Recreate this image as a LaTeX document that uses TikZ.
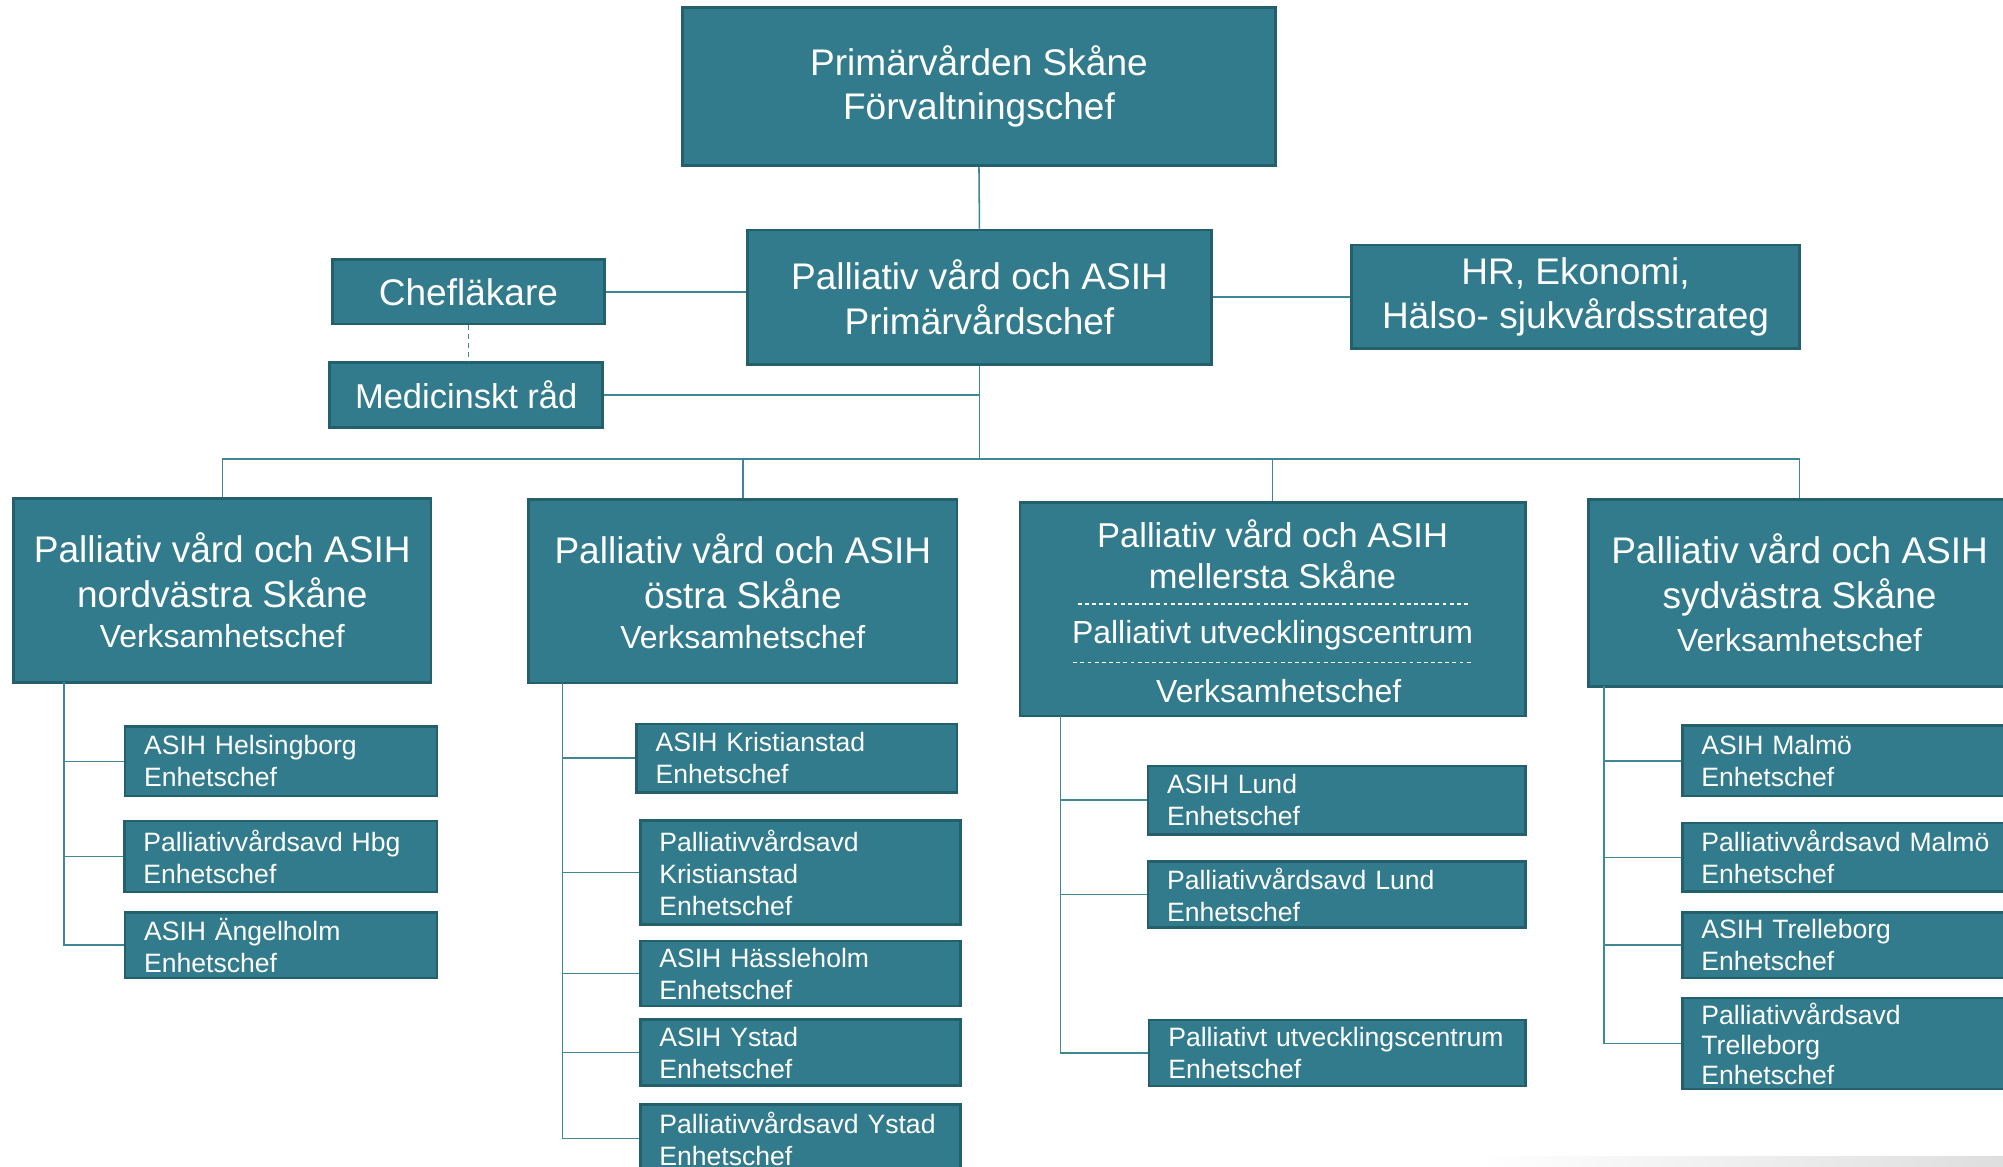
\documentclass[tikz,border=0pt]{standalone}
\usepackage{fontspec}
\setmainfont{Liberation Sans}
\definecolor{tealfill}{HTML}{317B8C}
\definecolor{tealdark}{HTML}{245F6C}
\definecolor{linec}{HTML}{3F8696}
\begin{document}
\begin{tikzpicture}[x=1pt,y=-1pt,
  box/.style={draw=tealdark, line width=2pt, fill=tealfill, text=white, inner sep=0pt, rectangle},
  bigbox/.style={box, align=center, font=\fontsize{29}{35}\selectfont},
  unitbox/.style={box, align=left, inner xsep=15pt, font=\fontsize{20.8}{25}\selectfont},
  conn/.style={draw=linec, line width=1.2pt},
  lbl/.style={text=white, inner sep=0pt},
  dashsep/.style={draw=white, line width=1pt, dash pattern=on 3pt off 2.6pt}]
\clip (0,0) rectangle (1568,913.5);
\fill[white] (0,0) rectangle (1568,913.5);
\shade[left color=white, right color=black!13] (1158,905) rectangle (1568,913.5);

% top levels
\node[bigbox, minimum width=464.3pt, minimum height=124pt] (top) at (766.35,67.7) {Primärvården Skåne\\Förvaltningschef};
\node[bigbox, minimum width=363.5pt, minimum height=105.2pt] (prim) at (766.75,232.6) {Palliativ vård och ASIH\\Primärvårdschef};
\node[bigbox, minimum width=213.2pt, minimum height=50.3pt] (chef) at (366.7,228.45) {Chefläkare};
\node[bigbox, minimum width=213.7pt, minimum height=50.6pt, font=\fontsize{27}{32}\selectfont] (med) at (364.95,309.2) {Medicinskt råd};
\node[bigbox, minimum width=350.9pt, minimum height=81.2pt] (hr) at (1233.35,232.4) {HR, Ekonomi,\\Hälso- sjukvårdsstrateg};

% regional boxes
\node[bigbox, minimum width=327pt, minimum height=143.9pt] (nv) at (174,462.15) {Palliativ vård och ASIH\\nordvästra Skåne\\[-3pt]{\fontsize{25}{30}\selectfont Verksamhetschef}};
\node[bigbox, minimum width=335.5pt, minimum height=143.8pt] (ost) at (581.55,462.9) {Palliativ vård och ASIH\\östra Skåne\\[-3pt]{\fontsize{25}{30}\selectfont Verksamhetschef}};
\node[box, minimum width=395.8pt, minimum height=167.1pt] (mel) at (996.2,477.05) {};
\node[bigbox, minimum width=330.4pt, minimum height=146.3pt] (sv) at (1408.8,464.15) {Palliativ vård och ASIH\\sydvästra Skåne\\[-1pt]{\fontsize{25}{30}\selectfont Verksamhetschef}};

% mellersta inner texts
\node[lbl, font=\fontsize{27}{32}\selectfont] (mt1) at (996.2,417.5) {Palliativ vård och ASIH};
\node[lbl, font=\fontsize{27}{32}\selectfont] (mt2) at (996.2,449.7) {mellersta Skåne};
\node[lbl, font=\fontsize{25}{30}\selectfont] (mt3) at (996.2,497) {Palliativt utvecklingscentrum};
\node[lbl, font=\fontsize{25}{30}\selectfont] (mt4) at (1001,540.7) {Verksamhetschef};
\draw[dashsep] (843.7,472.9) -- (1149.7,472.9);
\draw[dashsep] (840.2,518.4) -- (1152.2,518.4);

% unit boxes nordvastra
\node[unitbox, minimum width=244.2pt, text width=214.2pt, minimum height=54.4pt] (nv1) at (219.9,596) {ASIH Helsingborg\\Enhetschef};
\node[unitbox, minimum width=244.7pt, text width=214.7pt, minimum height=55.8pt] (nv2) at (219.65,670.5) {Palliativvårdsavd Hbg\\Enhetschef};
\node[unitbox, minimum width=244.2pt, text width=214.2pt, minimum height=51.6pt] (nv3) at (219.9,739.9) {ASIH Ängelholm\\Enhetschef};

% unit boxes ostra
\node[unitbox, minimum width=251.1pt, text width=221.1pt, minimum height=53.7pt] (os1) at (623.75,593.55) {ASIH Kristianstad\\Enhetschef};
\node[unitbox, minimum width=250.6pt, text width=220.6pt, minimum height=81.6pt] (os2) at (626.5,683) {Palliativvårdsavd\\Kristianstad\\Enhetschef};
\node[unitbox, minimum width=250.6pt, text width=220.6pt, minimum height=50.8pt] (os3) at (626.5,762.1) {ASIH Hässleholm\\Enhetschef};
\node[unitbox, minimum width=250.6pt, text width=220.6pt, minimum height=51.6pt] (os4) at (626.5,824) {ASIH Ystad\\Enhetschef};
\node[unitbox, minimum width=250.6pt, text width=220.6pt, minimum height=53pt] (os5) at (626.5,891.3) {Palliativvårdsavd Ystad\\Enhetschef};

% unit boxes mellersta
\node[unitbox, minimum width=295.5pt, text width=265.5pt, minimum height=53.7pt] (me1) at (1046.35,626.45) {ASIH Lund\\Enhetschef};
\node[unitbox, minimum width=295.5pt, text width=265.5pt, minimum height=51.6pt] (me2) at (1046.35,700.2) {Palliativvårdsavd Lund\\Enhetschef};
\node[unitbox, minimum width=294.5pt, text width=264.5pt, minimum height=51.5pt] (me3) at (1046.85,824.35) {Palliativt utvecklingscentrum\\Enhetschef};

% unit boxes sydvastra
\node[unitbox, minimum width=260.1pt, text width=230.1pt, minimum height=55.1pt] (sw1) at (1446.95,595.65) {ASIH Malmö\\Enhetschef};
\node[unitbox, minimum width=260.1pt, text width=230.1pt, minimum height=53.7pt] (sw2) at (1446.95,671.15) {Palliativvårdsavd Malmö\\Enhetschef};
\node[unitbox, minimum width=260.1pt, text width=230.1pt, minimum height=51.6pt] (sw3) at (1446.95,739.9) {ASIH Trelleborg\\Enhetschef};
\node[unitbox, minimum width=260.1pt, text width=230.1pt, minimum height=71.2pt] (sw4) at (1446.95,817) {Palliativvårdsavd\\[-1.5pt]Trelleborg\\[-1.5pt]Enhetschef};

% connectors top part
\coordinate (busy) at (0,359.5);
\draw[conn] (top.south) -- (prim.north);
\draw[conn] (chef.east) -- (chef.east -| prim.west);
\draw[conn] (prim.east) -- (prim.east -| hr.west);
\draw[conn, dashed, dash pattern=on 4pt off 3pt] (chef.south) -- (chef.south |- med.north);
\draw[conn] (med.east) -- (med.east -| prim.south);
\draw[conn] (prim.south) -- (prim.south |- busy);
\draw[conn] (nv.north) |- (sv.north |- busy) -- (sv.north);
\draw[conn] (ost.north) -- (ost.north |- busy);
\draw[conn] (mel.north) -- (mel.north |- busy);

% spines
\coordinate (nvsp) at (49.9,534.1);
\draw[conn] (nvsp) |- (nv3.west);
\draw[conn] (nv1.west -| nvsp) -- (nv1.west);
\draw[conn] (nv2.west -| nvsp) -- (nv2.west);

\coordinate (ossp) at (440.3,534.8);
\draw[conn] (ossp) |- (os5.west);
\draw[conn] (os1.west -| ossp) -- (os1.west);
\draw[conn] (os2.west -| ossp) -- (os2.west);
\draw[conn] (os3.west -| ossp) -- (os3.west);
\draw[conn] (os4.west -| ossp) -- (os4.west);

\coordinate (mesp) at (830,560.6);
\draw[conn] (mesp) |- (me3.west);
\draw[conn] (me1.west -| mesp) -- (me1.west);
\draw[conn] (me2.west -| mesp) -- (me2.west);

\coordinate (swsp) at (1255.5,537.3);
\draw[conn] (swsp) |- (sw4.west);
\draw[conn] (sw1.west -| swsp) -- (sw1.west);
\draw[conn] (sw2.west -| swsp) -- (sw2.west);
\draw[conn] (sw3.west -| swsp) -- (sw3.west);
\end{tikzpicture}
\end{document}
